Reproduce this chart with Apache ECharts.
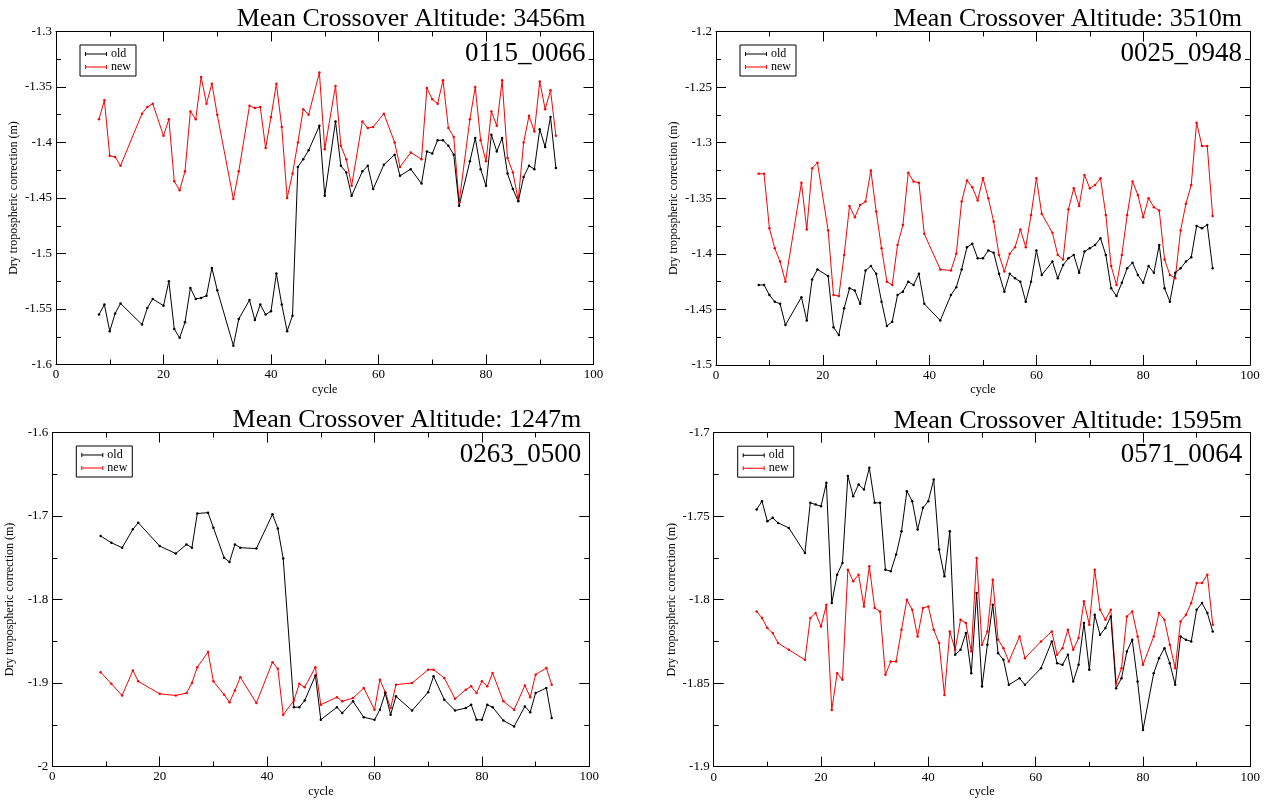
<!DOCTYPE html>
<html><head><meta charset="utf-8">
<script src="https://cdn.jsdelivr.net/npm/echarts@6/dist/echarts.min.js"></script>
<style>html,body{margin:0;padding:0;background:#fff}#c{width:1269px;height:803px}</style>
</head><body><div id="c"></div>
<script>
// ---------- DATA ----------
const cycles1 = [8,9,10,11,12,16,17,18,20,21,22,23,24,25,26,27,28,29,30,33,34,36,37,38,39,40,41,42,43,44,45,46,47,49,50,52,53,54,55,57,58,59,61,63,64,66,68,69,70,71,72,73,74,75,77,78,79,80,81,82,83,84,85,86,87,88,89,90,91,92,93];
const old1 = [-1.555,-1.546,-1.570,-1.554,-1.545,-1.564,-1.549,-1.541,-1.547,-1.525,-1.568,-1.576,-1.562,-1.531,-1.541,-1.540,-1.538,-1.513,-1.533,-1.583,-1.559,-1.542,-1.560,-1.546,-1.555,-1.552,-1.518,-1.546,-1.570,-1.556,-1.422,-1.415,-1.407,-1.385,-1.448,-1.381,-1.421,-1.427,-1.448,-1.426,-1.421,-1.442,-1.420,-1.411,-1.430,-1.424,-1.437,-1.408,-1.410,-1.398,-1.398,-1.403,-1.411,-1.457,-1.417,-1.396,-1.424,-1.439,-1.393,-1.408,-1.396,-1.428,-1.442,-1.453,-1.431,-1.421,-1.424,-1.388,-1.404,-1.377,-1.423];
const new1 = [-1.379,-1.362,-1.412,-1.413,-1.421,-1.374,-1.368,-1.365,-1.394,-1.379,-1.435,-1.443,-1.426,-1.372,-1.379,-1.341,-1.365,-1.347,-1.375,-1.451,-1.426,-1.367,-1.369,-1.368,-1.405,-1.377,-1.347,-1.386,-1.450,-1.428,-1.400,-1.370,-1.375,-1.337,-1.406,-1.349,-1.403,-1.415,-1.439,-1.381,-1.387,-1.386,-1.374,-1.400,-1.422,-1.409,-1.415,-1.351,-1.361,-1.365,-1.344,-1.387,-1.395,-1.454,-1.379,-1.350,-1.398,-1.417,-1.372,-1.385,-1.344,-1.414,-1.427,-1.452,-1.400,-1.376,-1.390,-1.345,-1.370,-1.353,-1.394];

const cycles2 = [8,9,10,11,12,13,16,17,18,19,21,22,23,24,25,26,27,28,29,30,31,32,33,34,35,36,37,38,39,42,44,45,46,47,48,49,50,51,52,53,54,55,56,57,58,59,60,61,63,64,65,66,67,68,69,70,71,72,73,74,75,76,77,78,79,80,81,82,83,84,85,86,87,88,89,90,91,92,93];
const old2 = [-1.428,-1.428,-1.437,-1.443,-1.445,-1.464,-1.439,-1.460,-1.423,-1.414,-1.420,-1.466,-1.473,-1.449,-1.431,-1.433,-1.445,-1.415,-1.411,-1.418,-1.443,-1.465,-1.461,-1.437,-1.434,-1.425,-1.428,-1.418,-1.445,-1.460,-1.437,-1.430,-1.414,-1.394,-1.391,-1.404,-1.404,-1.397,-1.399,-1.418,-1.434,-1.418,-1.422,-1.425,-1.443,-1.425,-1.397,-1.419,-1.407,-1.422,-1.410,-1.404,-1.401,-1.417,-1.398,-1.395,-1.392,-1.386,-1.401,-1.431,-1.438,-1.426,-1.413,-1.408,-1.419,-1.426,-1.411,-1.417,-1.392,-1.431,-1.443,-1.417,-1.413,-1.407,-1.403,-1.375,-1.377,-1.374,-1.413];
const new2 = [-1.328,-1.328,-1.377,-1.395,-1.407,-1.425,-1.336,-1.378,-1.323,-1.318,-1.379,-1.437,-1.438,-1.401,-1.357,-1.367,-1.356,-1.353,-1.325,-1.362,-1.395,-1.425,-1.428,-1.392,-1.374,-1.327,-1.335,-1.336,-1.382,-1.414,-1.415,-1.400,-1.353,-1.334,-1.340,-1.352,-1.332,-1.350,-1.371,-1.401,-1.416,-1.400,-1.394,-1.378,-1.394,-1.365,-1.332,-1.364,-1.381,-1.401,-1.405,-1.360,-1.341,-1.357,-1.329,-1.341,-1.338,-1.332,-1.365,-1.411,-1.428,-1.401,-1.365,-1.335,-1.347,-1.367,-1.350,-1.358,-1.361,-1.405,-1.419,-1.422,-1.379,-1.355,-1.338,-1.282,-1.303,-1.303,-1.366];

const cycles3 = [9,11,13,15,16,20,23,25,26,27,29,30,32,33,34,35,38,41,42,43,45,46,47,49,50,53,54,56,58,60,61,62,63,64,67,70,71,73,75,77,78,79,80,81,82,84,86,88,89,90,92,93];
const old3 = [-1.724,-1.732,-1.738,-1.716,-1.708,-1.736,-1.745,-1.734,-1.738,-1.697,-1.696,-1.714,-1.750,-1.755,-1.734,-1.738,-1.739,-1.698,-1.715,-1.751,-1.929,-1.929,-1.921,-1.891,-1.944,-1.929,-1.936,-1.922,-1.941,-1.944,-1.932,-1.912,-1.938,-1.916,-1.933,-1.911,-1.892,-1.920,-1.933,-1.930,-1.926,-1.944,-1.944,-1.926,-1.929,-1.945,-1.952,-1.928,-1.935,-1.912,-1.906,-1.942];
const new3 = [-1.887,-1.901,-1.915,-1.885,-1.898,-1.913,-1.915,-1.912,-1.900,-1.881,-1.863,-1.898,-1.914,-1.923,-1.909,-1.893,-1.924,-1.875,-1.883,-1.938,-1.921,-1.901,-1.905,-1.881,-1.926,-1.917,-1.922,-1.918,-1.906,-1.932,-1.896,-1.911,-1.930,-1.902,-1.900,-1.884,-1.884,-1.894,-1.919,-1.908,-1.904,-1.912,-1.898,-1.904,-1.888,-1.922,-1.932,-1.903,-1.917,-1.890,-1.882,-1.902];

const cycles4 = [8,9,10,11,12,14,17,18,19,20,21,22,23,24,25,26,27,28,29,30,31,32,33,34,35,36,37,38,39,40,41,42,43,44,45,46,47,48,49,50,51,52,53,54,55,57,58,61,63,64,65,66,67,68,69,70,71,72,73,74,75,76,77,78,79,80,82,83,84,85,86,87,88,89,90,91,92,93];
const old4 = [-1.746,-1.741,-1.753,-1.751,-1.754,-1.757,-1.772,-1.742,-1.743,-1.744,-1.730,-1.802,-1.785,-1.778,-1.726,-1.738,-1.731,-1.734,-1.721,-1.742,-1.742,-1.782,-1.783,-1.773,-1.759,-1.735,-1.741,-1.758,-1.745,-1.741,-1.728,-1.770,-1.786,-1.759,-1.833,-1.830,-1.820,-1.844,-1.796,-1.852,-1.827,-1.803,-1.832,-1.836,-1.851,-1.847,-1.851,-1.841,-1.825,-1.838,-1.839,-1.833,-1.849,-1.839,-1.814,-1.842,-1.809,-1.821,-1.817,-1.810,-1.853,-1.847,-1.831,-1.824,-1.849,-1.878,-1.844,-1.835,-1.829,-1.838,-1.851,-1.822,-1.824,-1.825,-1.806,-1.802,-1.808,-1.819];
const new4 = [-1.807,-1.811,-1.817,-1.820,-1.826,-1.830,-1.836,-1.811,-1.808,-1.816,-1.803,-1.866,-1.844,-1.848,-1.782,-1.789,-1.785,-1.804,-1.780,-1.805,-1.807,-1.845,-1.837,-1.837,-1.818,-1.800,-1.806,-1.822,-1.805,-1.804,-1.818,-1.826,-1.857,-1.819,-1.830,-1.812,-1.814,-1.831,-1.775,-1.827,-1.819,-1.788,-1.824,-1.829,-1.837,-1.822,-1.835,-1.825,-1.819,-1.833,-1.829,-1.818,-1.830,-1.823,-1.801,-1.815,-1.782,-1.806,-1.812,-1.806,-1.850,-1.841,-1.810,-1.807,-1.822,-1.839,-1.822,-1.808,-1.812,-1.827,-1.841,-1.813,-1.809,-1.802,-1.790,-1.790,-1.785,-1.815];

const titles = ['Mean Crossover Altitude: 3456m','Mean Crossover Altitude: 3510m','Mean Crossover Altitude: 1247m','Mean Crossover Altitude: 1595m'];
const ids = ['0115_0066','0025_0948','0263_0500','0571_0064'];
const seriesNames = ['old','new'];
const xName = 'cycle';
const yName = 'Dry tropospheric correction (m)';
const yMins = [-1.6,-1.5,-2,-1.9];
const yMaxs = [-1.3,-1.2,-1.6,-1.7];
const yIntervals = [0.05,0.05,0.1,0.05];
const xMin = 0, xMax = 100, xInterval = 20;

// ---------- LAYOUT ----------
const FONT = '"Liberation Serif","Times New Roman",serif';
const grids = [
  {left:56, top:31.5, width:537.5, height:333},
  {left:716, top:31.5, width:534, height:333.5},
  {left:52.3, top:432.5, width:537, height:334},
  {left:713.7, top:432.7, width:536.6, height:334}
];
const panels = [
  {c:cycles1,o:old1,n:new1},
  {c:cycles2,o:old2,n:new2},
  {c:cycles3,o:old3,n:new3},
  {c:cycles4,o:old4,n:new4}
];
const fmt = v => String(parseFloat((+v).toFixed(3)));
const black = '#000';
const legendIcon = 'path://M0,3.5H22V4.5H0Z M0,2H1V6H0Z M21,2H22V6H21Z';
const tickCommon = {
  axisLine:{show:true,onZero:false,lineStyle:{color:black,width:1}},
  axisTick:{show:true,inside:true,length:10,lineStyle:{color:black,width:1}},
  minorTick:{show:true,splitNumber:2,length:5,lineStyle:{color:black,width:1}},
  splitLine:{show:false}
};
const xAxes=[], yAxes=[], series=[], legends=[], graphics=[];
panels.forEach((p,i)=>{
  const g = grids[i];
  xAxes.push(Object.assign({gridIndex:i,type:'value',min:xMin,max:xMax,interval:xInterval,position:'bottom',
    axisLabel:{color:black,fontFamily:FONT,fontSize:13,margin:4},
    name:xName,nameLocation:'middle',nameGap:19,nameTextStyle:{color:black,fontFamily:FONT,fontSize:12}},tickCommon));
  xAxes.push(Object.assign({gridIndex:i,type:'value',min:xMin,max:xMax,interval:xInterval,position:'top',
    axisLabel:{show:false}},tickCommon));
  yAxes.push(Object.assign({gridIndex:i,type:'value',min:yMins[i],max:yMaxs[i],interval:yIntervals[i],position:'left',
    axisLabel:{color:black,fontFamily:FONT,fontSize:13,margin:4,formatter:fmt},
    name:yName,nameLocation:'middle',nameGap:36,nameTextStyle:{color:black,fontFamily:FONT,fontSize:12}},tickCommon));
  yAxes.push(Object.assign({gridIndex:i,type:'value',min:yMins[i],max:yMaxs[i],interval:yIntervals[i],position:'right',
    axisLabel:{show:false}},tickCommon));
  const mk = (name, vals, color) => ({
    type:'line', name, xAxisIndex:2*i, yAxisIndex:2*i,
    data: p.c.map((x,k)=>[x, vals[k]]),
    symbol:'circle', symbolSize:2.5, showSymbol:true,
    lineStyle:{color,width:1}, itemStyle:{color}, animation:false
  });
  series.push(mk(seriesNames[1], p.n, '#ff0000'));
  series.push(mk(seriesNames[0], p.o, black));
  legends.push({
    data:seriesNames.map(n=>({name:n, icon:legendIcon})), left:g.left+24, top:g.top+13.5, orient:'vertical',
    itemWidth:22, itemHeight:8, itemGap:1, padding:[3,5,3,5],
    borderColor:black, borderWidth:1, borderRadius:0, backgroundColor:'#fff',
    textStyle:{color:black,fontFamily:FONT,fontSize:12,padding:[0,0,0,-1]},
    selectedMode:false
  });
  const right = g.left + g.width;
  graphics.push({type:'text', x:right-8, y:g.top-12, style:{text:titles[i], font:'26px '+FONT, fill:black, align:'right', verticalAlign:'middle', textAlign:'right', textVerticalAlign:'middle'}});
  graphics.push({type:'text', x:right-8, y:g.top+22, style:{text:ids[i], font:'27px '+FONT, fill:black, align:'right', verticalAlign:'middle', textAlign:'right', textVerticalAlign:'middle'}});
});

const chart = echarts.init(document.getElementById('c'), null, {renderer:'canvas'});
chart.setOption({
  backgroundColor:'#fff',
  animation:false,
  grid: grids.map(g=>Object.assign({containLabel:false},g)),
  xAxis:xAxes, yAxis:yAxes, series, legend:legends, graphic:graphics
});
</script></body></html>
